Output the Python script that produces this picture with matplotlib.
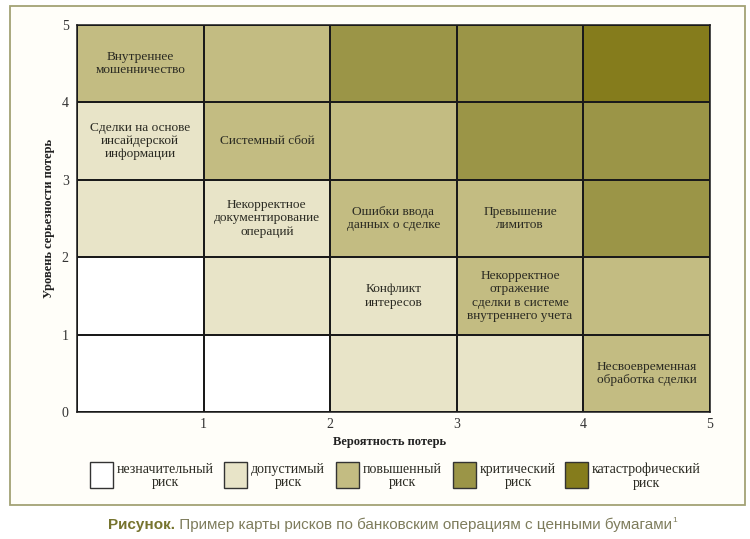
import matplotlib.pyplot as plt
import numpy as np
from matplotlib.colors import ListedColormap
from matplotlib.patches import Rectangle

plt.rcParams['font.family'] = ['Liberation Serif', 'DejaVu Serif']

# risk level per cell, rows from bottom (severity 0-1) to top (4-5)
levels = [
    [0, 0, 1, 1, 2],
    [0, 1, 1, 2, 2],
    [1, 1, 2, 2, 3],
    [1, 2, 2, 3, 3],
    [2, 2, 3, 3, 4],
]
level_colors = ['#ffffff', '#e8e4c8', '#c3bc82', '#9b9547', '#857c1c']
level_names = ['незначительный\nриск', 'допустимый\nриск', 'повышенный\nриск',
               'критический\nриск', 'катастрофический\nриск']

# (column, row, text)
risks = [
    (0, 4, 'Внутреннее\nмошенничество'),
    (0, 3, 'Сделки на основе\nинсайдерской\nинформации'),
    (1, 3, 'Системный сбой'),
    (1, 2, 'Некорректное\nдокументирование\nопераций'),
    (2, 2, 'Ошибки ввода\nданных о сделке'),
    (3, 2, 'Превышение\nлимитов'),
    (2, 1, 'Конфликт\nинтересов'),
    (3, 1, 'Некорректное\nотражение\nсделки в системе\nвнутреннего учета'),
    (4, 0, 'Несвоевременная\nобработка сделки'),
]
ticks = [0, 1, 2, 3, 4, 5]

W, H = 750, 539
fig = plt.figure(figsize=(7.5, 5.39), dpi=100)

# outer frame
fig.patches.append(Rectangle((10 / W, 1 - 505 / H), 735 / W, 499 / H, transform=fig.transFigure,
                             facecolor='#fffef9', edgecolor='#a3a275', lw=1.3, zorder=-5))

ax = fig.add_axes([77 / W, 1 - 412 / H, 633 / W, 387 / H])
ax.set_zorder(2)
ax.patch.set_alpha(0)
ax.pcolormesh(np.arange(6), np.arange(6), np.array(levels), cmap=ListedColormap(level_colors),
              vmin=-0.5, vmax=4.5, edgecolors='#1a1a1a', linewidth=1.1)
for cx, cy, txt in risks:
    ax.text(cx + 0.5, cy + 0.5, txt, ha='center', va='center', fontsize=9.6,
            linespacing=1.15, color='#2a2a22')

ax.set_xlim(0, 5)
ax.set_ylim(0, 5)
ax.set_xticks(ticks[1:])
ax.set_yticks(ticks)
ax.tick_params(length=0, labelsize=10, colors='#333333')
ax.tick_params(axis='y', pad=6)
ax.tick_params(axis='x', pad=4)
for s in ax.spines.values():
    s.set_color('#1a1a1a')
    s.set_linewidth(1.1)
ax.set_xlabel('Вероятность потерь', fontsize=9, fontweight='bold', color='#222222')
ax.xaxis.set_label_coords(0.494, -0.063)
ax.set_ylabel('Уровень серьезности потерь', fontsize=9, fontweight='bold', color='#222222')
ax.yaxis.set_label_coords(-0.034, 0.5)

# legend
sq_left = [90, 224, 336, 453, 565]
for x0, c, name in zip(sq_left, level_colors, level_names):
    fig.patches.append(Rectangle((x0 / W, 1 - 488 / H), 23 / W, 26 / H, transform=fig.transFigure,
                                 facecolor=c, edgecolor='#333333', lw=1.0))
    fig.text((x0 + 27) / W, 1 - 476 / H, name, ha='left', va='center', fontsize=10,
             multialignment='center', linespacing=1.05, color='#2a2a22')

# caption
cap_font = ['Liberation Sans Narrow', 'Liberation Sans']
t1 = fig.text(108 / W, 1 - 525 / H, 'Рисунок.', fontsize=11, fontweight='bold', color='#76742e',
              family=cap_font, va='center')
ann = plt.annotate(' Пример карты рисков по банковским операциям с ценными бумагами',
                   xy=(1, 0), xycoords=t1, va='bottom', ha='left', fontsize=11, color='#7e7c5c',
                   family=cap_font, annotation_clip=False)
plt.annotate('1', xy=(1, 0.55), xycoords=ann, va='bottom', ha='left', fontsize=6, color='#7e7c5c',
             family=cap_font, annotation_clip=False)

fig.savefig('out.png', dpi=100)
